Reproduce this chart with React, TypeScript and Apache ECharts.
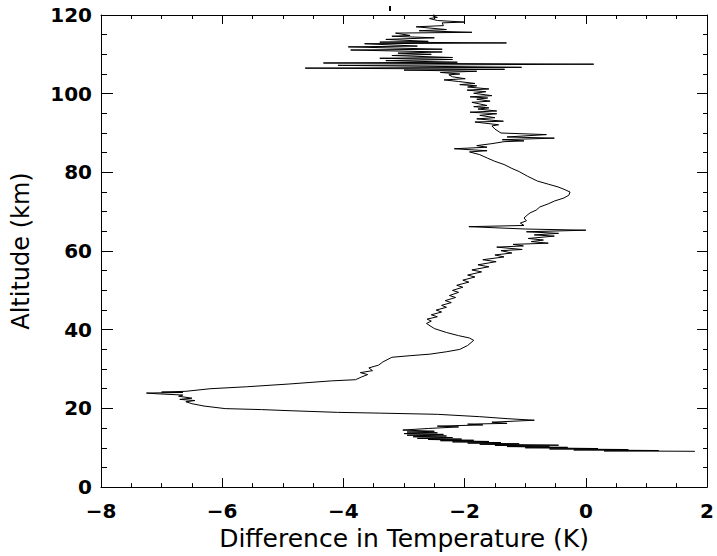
import React, { useEffect, useRef } from "react";
import * as echarts from "echarts";

// [temperature difference (K), altitude (km)]
const troposphereBand: number[][] = [
  [1.8, 9.1], [0.3, 9.2], [1.2, 9.3], [-0.2, 9.45], [0.7, 9.55], [-0.6, 9.7], [0.2, 9.8],
  [-1.0, 10.0], [-0.3, 10.1], [-1.3, 10.3], [-0.6, 10.4], [-1.5, 10.6], [-0.45, 10.65],
  [-1.75, 10.9], [-1.1, 11.0], [-1.95, 11.2], [-1.4, 11.3], [-2.2, 11.5], [-1.6, 11.6],
  [-2.4, 11.8], [-1.85, 11.9], [-2.6, 12.1], [-2.05, 12.2], [-2.78, 12.4], [-2.2, 12.6],
  [-2.85, 12.8], [-2.3, 13.0], [-2.95, 13.2], [-2.35, 13.4], [-3.0, 13.6], [-2.45, 13.8],
  [-2.95, 14.0], [-2.5, 14.2], [-3.02, 14.5], [-2.6, 14.9], [-2.1, 15.3], [-2.45, 15.5],
  [-1.7, 15.8], [-1.95, 16.0], [-1.3, 16.2], [-1.55, 16.5], [-0.85, 17.0], [-1.3, 17.4],
  [-1.75, 17.9], [-2.45, 18.5], [-3.4, 18.8],
];

const stratosphere: number[][] = [
  [-4.1, 19.0], [-4.85, 19.4], [-5.35, 19.7], [-5.95, 19.95], [-6.3, 20.6], [-6.5, 21.2],
  [-6.6, 21.7], [-6.45, 22.0], [-6.7, 22.3], [-6.5, 22.6], [-6.72, 23.1], [-6.65, 23.4],
  [-7.05, 23.7], [-7.25, 23.9], [-6.65, 24.05], [-7.0, 24.15], [-6.6, 24.35], [-6.2, 25.0],
  [-5.6, 25.5], [-4.9, 26.2], [-4.2, 27.0], [-3.8, 27.3], [-3.7, 28.0], [-3.6, 28.6],
  [-3.72, 29.1], [-3.52, 29.6], [-3.58, 30.3], [-3.42, 31.0], [-3.35, 31.8], [-3.2, 33.0],
  [-2.9, 33.4], [-2.57, 33.8], [-2.3, 34.4], [-2.08, 35.0], [-1.95, 36.0], [-1.85, 37.3],
  [-1.92, 37.9], [-2.1, 38.5], [-2.3, 39.3], [-2.5, 40.3], [-2.63, 41.6], [-2.55, 42.2],
  [-2.62, 42.7], [-2.45, 43.3], [-2.55, 43.8], [-2.38, 44.5], [-2.47, 45.0], [-2.3, 45.7],
  [-2.38, 46.2], [-2.22, 46.9], [-2.32, 47.4], [-2.15, 48.2], [-2.25, 48.7], [-2.1, 49.5],
  [-2.2, 50.0], [-2.03, 50.8], [-2.13, 51.3], [-1.93, 52.1], [-2.03, 52.6], [-1.83, 53.4],
  [-1.95, 53.9], [-1.72, 54.7], [-1.88, 55.2], [-1.6, 56.0], [-1.78, 56.5], [-1.48, 57.3],
  [-1.7, 57.8], [-1.35, 58.5], [-1.5, 59.0], [-1.22, 59.5],
];

const mesosphere: number[][] = [
  [-1.4, 60.1], [-1.05, 60.4], [-1.47, 61.0], [-1.03, 61.3], [-1.2, 61.7], [-0.62, 62.0],
  [-0.9, 62.4], [-0.7, 62.8], [-0.95, 63.2], [-0.52, 63.8], [-0.85, 64.1], [-0.45, 64.5],
  [-0.98, 64.9], [0.0, 65.3], [-1.0, 65.6], [-1.93, 66.2], [-1.02, 66.5], [-1.08, 67.1],
  [-0.98, 67.7], [-1.02, 68.4], [-0.97, 69.1], [-0.92, 69.7], [-0.82, 70.4], [-0.76, 71.2],
  [-0.62, 72.0], [-0.52, 72.7], [-0.36, 73.5], [-0.28, 74.2], [-0.26, 75.0], [-0.36, 75.7],
  [-0.46, 76.3], [-0.62, 77.0], [-0.8, 77.8], [-0.96, 79.0], [-1.1, 80.2], [-1.22, 81.0],
  [-1.35, 82.0], [-1.5, 82.8], [-1.62, 83.6], [-1.75, 84.5], [-1.92, 85.2], [-1.63, 85.5],
  [-2.17, 86.0], [-1.63, 86.4], [-1.8, 86.8], [-1.55, 87.3], [-1.35, 87.8], [-1.02, 88.0],
  [-1.38, 88.3], [-0.52, 88.7], [-1.3, 89.0], [-0.65, 89.6], [-1.4, 90.0], [-1.5, 91.0],
];

const lowerThermosphere: number[][] = [
  [-1.55, 91.8], [-1.44, 92.1], [-1.83, 92.8], [-1.36, 93.0], [-1.8, 93.6], [-1.5, 93.9],
  [-1.75, 94.5], [-1.47, 94.9], [-1.91, 95.3], [-1.47, 95.6], [-1.78, 96.1], [-1.6, 96.4],
  [-1.85, 96.7], [-1.63, 97.0], [-1.88, 97.8], [-1.58, 98.1], [-1.8, 98.6], [-1.62, 98.9],
  [-1.91, 99.2], [-1.55, 99.5], [-1.85, 100.1], [-1.65, 100.5], [-1.96, 100.9], [-1.6, 101.2],
  [-1.95, 101.7], [-1.8, 102.0], [-2.08, 102.3], [-1.83, 102.6], [-2.1, 103.1], [-2.34, 103.5],
  [-1.99, 103.8], [-2.2, 104.3], [-2.26, 104.8], [-2.08, 105.0], [-2.4, 105.4], [-1.8, 105.7],
];

const upperThermosphere: number[][] = [
  [-3.0, 106.0], [-1.34, 106.2], [-4.63, 106.5], [-1.06, 106.7], [-4.09, 107.2], [0.13, 107.5],
  [-4.33, 107.8], [-2.12, 108.0], [-3.3, 108.4], [-2.2, 108.7], [-3.4, 109.0], [-2.2, 109.2],
  [-3.2, 109.7], [-2.55, 110.0], [-3.1, 110.3], [-2.37, 110.6], [-3.88, 111.1], [-2.37, 111.3],
  [-3.92, 111.9], [-2.78, 112.1], [-3.65, 112.7], [-1.31, 112.9], [-3.4, 113.1], [-2.6, 113.3],
  [-3.3, 113.8], [-2.5, 114.2], [-3.2, 114.6], [-2.9, 114.8], [-3.14, 115.4], [-1.88, 115.6],
  [-2.75, 116.0], [-2.3, 116.3], [-2.8, 117.0], [-2.35, 117.3], [-2.37, 118.0], [-2.0, 118.2],
  [-2.45, 118.6], [-2.58, 119.1], [-2.45, 119.4], [-2.52, 119.7], [-2.5, 120.5],
];

const xRange = [-8, 2];
const yRange = [0, 120];
const xTitle = "Difference in Temperature (K)";
const yTitle = "Altitude (km)";

const FONT = "DejaVu Sans";

export default function App() {
  const ref = useRef<HTMLDivElement>(null);
  useEffect(() => {
    document.body.style.margin = "0";
    if (!ref.current) return;
    const chart = echarts.init(ref.current, undefined, { renderer: "svg" });
    const profile = [
      ...troposphereBand,
      ...stratosphere,
      ...mesosphere,
      ...lowerThermosphere,
      ...upperThermosphere,
    ];
    const line = { show: true, onZero: false, lineStyle: { color: "#000", width: 1 } };
    const fmt = (v: number) => String(v).replace("-", "\u2212");
    const xBase = {
      type: "value",
      min: xRange[0],
      max: xRange[1],
      interval: 2,
      axisLine: line,
      splitLine: { show: false },
      minorTick: { show: true, splitNumber: 4, length: 4, lineStyle: { color: "#000", width: 1 } },
      axisTick: { show: true, inside: true, length: 9, lineStyle: { color: "#000", width: 1 } },
    };
    const yBase = {
      type: "value",
      min: yRange[0],
      max: yRange[1],
      interval: 20,
      axisLine: line,
      splitLine: { show: false },
    };
    chart.setOption({
      animation: false,
      backgroundColor: "#fff",
      grid: { left: 101, right: 5, top: 15, bottom: 65 },
      xAxis: [
        {
          ...xBase,
          position: "bottom",
          name: xTitle,
          nameLocation: "middle",
          nameGap: 37,
          nameTextStyle: { fontFamily: FONT, fontSize: 25, color: "#000" },
          axisLabel: {
            formatter: fmt,
            fontFamily: FONT,
            fontWeight: "bold",
            fontSize: 20,
            color: "#000",
            margin: 14,
          },
        },
        { ...xBase, position: "top", axisLabel: { show: false } },
      ],
      yAxis: [
        {
          ...yBase,
          position: "left",
          name: yTitle,
          nameLocation: "middle",
          nameGap: 68,
          nameRotate: 90,
          nameTextStyle: { fontFamily: FONT, fontSize: 24, color: "#000" },
          axisTick: { show: true, inside: true, length: 12, lineStyle: { color: "#000" } },
          minorTick: { show: true, splitNumber: 4, length: 6, lineStyle: { color: "#000" } },
          axisLabel: {
            formatter: fmt,
            fontFamily: FONT,
            fontWeight: "bold",
            fontSize: 20,
            color: "#000",
            margin: 9,
          },
        },
        {
          ...yBase,
          position: "right",
          axisTick: { show: true, inside: true, length: 10, lineStyle: { color: "#000" } },
          minorTick: { show: true, splitNumber: 4, length: 4, lineStyle: { color: "#000" } },
          axisLabel: { show: false },
        },
      ],
      graphic: [
        { type: "rect", shape: { x: 389, y: 6, width: 2, height: 5 }, style: { fill: "#000" } },
      ],
      series: [
        {
          type: "line",
          xAxisIndex: 0,
          yAxisIndex: 0,
          data: profile,
          showSymbol: false,
          symbol: "none",
          lineStyle: { color: "#000", width: 1 },
          clip: true,
        },
      ],
    });
    return () => chart.dispose();
  }, []);
  return <div ref={ref} style={{ width: 717, height: 556 }} />;
}
